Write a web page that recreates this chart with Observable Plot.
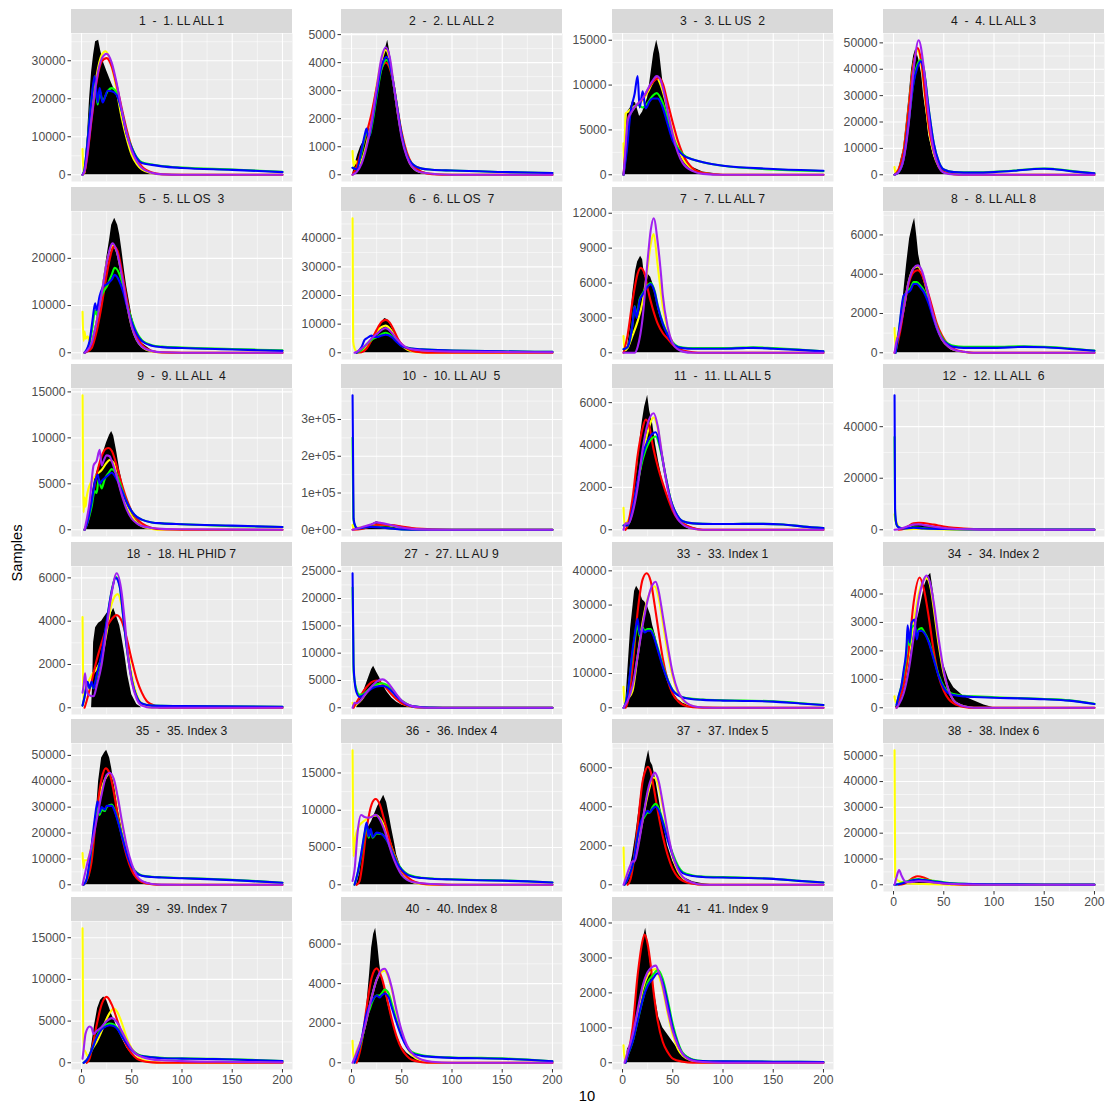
<!DOCTYPE html>
<html>
<head>
<meta charset="utf-8">
<script src="https://cdn.jsdelivr.net/npm/d3@7"></script>
<script src="https://cdn.jsdelivr.net/npm/@observablehq/plot@0.6"></script>
<style>
  body { margin: 0; background: #ffffff; }
  #chart { position: relative; width: 1111px; height: 1107px; font-family: "Liberation Sans", Arial, sans-serif; }
  .strip { position: absolute; background: #D9D9D9; color: #1A1A1A; font-size: 12.2px; text-align: center; white-space: pre; }
  .panel { position: absolute; }
  .panel svg { overflow: visible; }
  .title { position: absolute; font-size: 14.7px; color: #000; white-space: pre; }
</style>
</head>
<body>
<div id="chart"></div>
<script>
// ---- facet labels ----
const panelIds = [1, 2, 3, 4, 5, 6, 7, 8, 9, 10, 11, 12, 18, 27, 33, 34, 35, 36, 37, 38, 39, 40, 41];
const panelNames = [
  "1. LL ALL 1", "2. LL ALL 2", "3. LL US  2", "4. LL ALL 3",
  "5. LL OS  3", "6. LL OS  7", "7. LL ALL 7", "8. LL ALL 8",
  "9. LL ALL  4", "10. LL AU  5", "11. LL ALL 5", "12. LL ALL  6",
  "18. HL PHID 7", "27. LL AU 9", "33. Index 1", "34. Index 2",
  "35. Index 3", "36. Index 4", "37. Index 5", "38. Index 6",
  "39. Index 7", "40. Index 8", "41. Index 9"
];

// ---- axis ticks ----
const xTicks = [0, 50, 100, 150, 200];
const xMinor = [25, 75, 125, 175];
const yTicks = [
  [0, 10000, 20000, 30000], [0, 1000, 2000, 3000, 4000, 5000], [0, 5000, 10000, 15000], [0, 10000, 20000, 30000, 40000, 50000],
  [0, 10000, 20000], [0, 10000, 20000, 30000, 40000], [0, 3000, 6000, 9000, 12000], [0, 2000, 4000, 6000],
  [0, 5000, 10000, 15000], [0, 100000, 200000, 300000], [0, 2000, 4000, 6000], [0, 20000, 40000],
  [0, 2000, 4000, 6000], [0, 5000, 10000, 15000, 20000, 25000], [0, 10000, 20000, 30000, 40000], [0, 1000, 2000, 3000, 4000],
  [0, 10000, 20000, 30000, 40000, 50000], [0, 5000, 10000, 15000], [0, 2000, 4000, 6000], [0, 10000, 20000, 30000, 40000, 50000],
  [0, 5000, 10000, 15000], [0, 2000, 4000, 6000], [0, 1000, 2000, 3000, 4000]
];
// panel 10 uses scientific labels
const sciTickLabels = ["0e+00", "1e+05", "2e+05", "3e+05"];

// ---- histogram of samples (black) ----
const histPts = [
  [[2,0],[4,4000],[6,10600],[8,20000],[10,27000],[12,31500],[14,35000],[17,35400],[19,32700],[22,29500],[25,27400],[30,24000],[35,21000],[40,16500],[45,10500],[50,6000],[55,3300],[60,1600],[70,400],[80,0]],
  [[1,0],[3,300],[6,700],[9,1000],[12,1200],[15,1500],[18,1700],[21,2100],[24,2700],[27,3200],[30,3800],[33,4400],[36,4800],[39,4200],[42,3400],[45,2600],[50,1500],[55,800],[60,400],[70,120],[80,30],[100,0]],
  [[1,0],[2,3000],[5,7000],[8,7500],[10,8200],[13,8000],[17,6500],[20,7000],[25,8600],[28,11000],[31,13500],[34,15000],[37,13500],[40,10500],[45,7000],[50,4500],[55,3000],[60,2000],[70,800],[80,300],[100,0]],
  [[2,0],[5,2000],[10,10000],[15,28000],[18,40000],[20,45000],[22,47500],[25,44000],[28,38000],[30,30000],[33,22000],[35,15000],[40,7000],[45,3000],[50,1000],[60,200],[70,0]],
  [[5,0],[10,2000],[15,7000],[20,13000],[25,20000],[28,24000],[30,27000],[33,28500],[36,27000],[38,25000],[40,22000],[43,17000],[45,14000],[50,8000],[55,4000],[60,2000],[70,500],[80,0]],
  [[8,0],[15,2000],[20,4500],[25,7500],[30,10500],[33,12000],[36,11500],[40,9000],[45,5500],[50,3000],[55,1500],[60,800],[70,200],[80,0]],
  [[2,0],[3,300],[5,500],[8,2500],[10,5000],[13,7000],[15,7800],[18,8300],[20,8000],[22,6500],[25,6800],[28,6500],[30,6000],[33,5000],[36,3500],[40,2500],[45,1500],[50,800],[60,200],[70,0]],
  [[3,0],[5,800],[8,2000],[10,3000],[13,4500],[16,5800],[19,6500],[21,6850],[23,6000],[25,5000],[28,4200],[30,3800],[35,2800],[40,1800],[45,1100],[50,600],[55,300],[60,150],[70,50],[80,0]],
  [[3,0],[5,500],[8,2000],[10,3500],[13,5500],[16,6500],[19,7500],[22,8500],[25,9500],[28,10300],[30,10700],[32,10200],[35,8500],[38,6500],[40,5500],[43,4000],[45,3000],[50,1800],[55,1000],[60,500],[70,150],[80,0]],
  [[8,0],[10,2000],[15,8000],[20,15000],[25,22000],[30,18000],[35,12000],[40,8000],[50,3000],[60,1000],[70,300],[80,0]],
  [[4,0],[5,200],[8,500],[10,1000],[12,2000],[15,3000],[18,4500],[20,5200],[22,5800],[25,6350],[27,5600],[30,5000],[33,4000],[36,3200],[40,2300],[45,1500],[50,900],[55,500],[60,300],[70,100],[80,0]],
  [[10,0],[15,500],[20,1500],[25,2000],[30,1800],[40,1000],[50,500],[60,200],[70,0]],
  [[10,0],[11,1000],[12,3000],[14,3700],[17,3900],[20,4000],[23,4200],[26,4400],[28,4200],[32,4600],[35,4200],[38,3800],[40,3300],[43,2500],[46,1500],[50,600],[55,150],[60,0]],
  [[5,0],[8,1500],[12,3000],[15,4500],[18,6000],[20,7000],[22,7600],[25,6500],[28,5500],[30,4600],[35,3000],[40,1800],[45,1000],[50,500],[60,100],[70,0]],
  [[3,500],[5,9600],[8,23000],[12,34000],[14,35500],[17,34000],[20,31500],[22,31000],[25,29500],[28,27000],[30,24000],[33,21000],[36,17000],[40,12000],[45,7500],[50,4500],[55,2500],[60,1300],[70,400],[80,100],[90,0]],
  [[2,0],[5,300],[10,1000],[15,1700],[20,2600],[25,3300],[28,3800],[31,4300],[34,4600],[37,4730],[40,4000],[43,3000],[46,2200],[50,1500],[55,1000],[60,700],[70,400],[80,250],[90,100],[100,0]],
  [[4,0],[5,500],[8,3000],[10,10000],[13.5,21500],[17,40000],[20,49000],[23,51000],[25,52000],[28,49000],[30,45000],[33,38000],[36,30000],[40,22000],[43,16000],[45,12000],[50,6500],[55,3000],[60,1500],[70,400],[80,100],[90,0]],
  [[5,0],[8,1500],[10,4000],[13,6500],[16,7500],[20,8500],[23,9500],[26,10500],[29,11200],[32,12000],[35,11000],[38,9000],[40,7500],[43,5500],[45,4000],[50,2000],[55,1000],[60,500],[70,200],[80,0]],
  [[3,0],[5,300],[8,1000],[10,1500],[13,2500],[15,3300],[18,4500],[20,5300],[23,6200],[26,6900],[28,6300],[30,6100],[33,5400],[36,4500],[40,3300],[45,2000],[50,1200],[55,700],[60,400],[70,150],[80,50],[90,0]],
  [[8,0],[10,300],[15,800],[20,1500],[25,2000],[30,1800],[40,1000],[50,500],[60,200],[70,50],[80,0]],
  [[5,0],[8,800],[10,2000],[13,4500],[16,6500],[19,7500],[22,7900],[25,7500],[28,6500],[30,5800],[33,5000],[36,4000],[40,3000],[45,1800],[50,1000],[55,500],[60,250],[70,50],[80,0]],
  [[5,0],[8,300],[10,800],[13,1800],[15,2800],[18,4500],[20,5800],[22,6500],[24,6800],[26,6000],[28,5000],[30,4300],[33,3700],[36,3000],[40,2200],[45,1400],[50,800],[55,500],[60,300],[70,100],[80,0]],
  [[3,0],[5,400],[8,500],[10,900],[13,1800],[16,2700],[19,3300],[21,3600],[23,3850],[25,3500],[27,3000],[30,2400],[33,1800],[36,1300],[40,1000],[45,800],[50,600],[55,400],[60,250],[70,100],[80,0]]
];

// ---- fitted density curves ----
const yellowPts = [
  [[1,6800],[2,200],[3,600],[5,5500],[10,16000],[15,26000],[20,31500],[24,32500],[28,30500],[33,25000],[40,15000],[45,9500],[50,5200],[55,2800],[60,1400],[70,400],[80,100],[100,0],[200,0]],
  [[1,850],[2,300],[4,500],[6,300],[10,500],[15,1100],[20,2000],[25,3200],[30,4100],[34,4450],[38,4100],[42,3200],[46,2200],[50,1400],[55,700],[60,300],[70,80],[100,0],[200,0]],
  [[1,3500],[1.5,500],[3,6800],[5,7000],[10,7500],[20,8300],[25,9200],[30,10300],[34,10800],[38,10000],[42,8500],[46,6500],[50,4800],[55,3000],[60,1800],[70,600],[80,200],[100,0],[200,0]],
  [[1,2900],[2,500],[3,1200],[5,2000],[10,9000],[15,25000],[20,42000],[24,47000],[28,41000],[32,27000],[36,15000],[40,8000],[45,3000],[50,1000],[60,150],[70,0],[200,0]],
  [[1,8700],[2,2500],[3,4500],[4,3000],[6,3500],[8,2500],[10,2500],[15,6500],[20,12500],[25,19000],[30,22500],[31,22700],[35,21500],[40,16500],[45,10500],[50,5500],[55,2700],[60,1300],[70,300],[80,50],[100,0],[200,0]],
  [[1,47000],[1.6,4000],[3,1500],[5,500],[8,300],[12,1000],[15,2500],[20,5000],[25,7500],[30,9000],[34,9500],[38,8500],[42,6500],[46,4200],[50,2500],[55,1200],[60,500],[70,100],[80,0],[200,0]],
  [[1,1430],[2,200],[5,400],[10,1500],[15,2700],[20,4400],[25,7300],[28,9300],[31,10200],[35,7500],[40,4000],[45,2000],[50,900],[60,200],[70,0],[200,0]],
  [[1,1260],[2,300],[3,700],[5,1000],[10,2200],[15,3600],[20,4300],[24,4400],[28,4100],[33,3200],[38,2200],[43,1300],[48,700],[55,300],[60,150],[70,40],[80,0],[200,0]],
  [[1,14640],[2,1900],[3,3500],[4,2500],[5,3500],[10,5300],[15,6000],[20,6500],[25,7300],[28,7600],[32,7300],[35,6000],[40,4000],[45,2500],[50,1500],[55,800],[60,400],[70,100],[80,0],[200,0]],
  [[1,13000],[2,3000],[4,5000],[10,7000],[20,12000],[30,14000],[40,11000],[50,6000],[60,2500],[70,800],[80,200],[100,0],[200,0]],
  [[1,1040],[2,200],[3,300],[5,400],[10,1000],[15,2200],[20,3500],[25,4600],[31,5300],[35,4800],[40,3300],[45,2000],[50,1100],[55,600],[60,300],[70,50],[80,0],[200,0]],
  [[1,6000],[2,3500],[3,2900],[5,1000],[8,500],[10,300],[15,200],[20,300],[30,300],[40,200],[60,50],[80,0],[200,0]],
  [[1,4190],[2,200],[3,700],[5,1000],[10,1500],[15,1800],[20,2300],[25,3500],[30,4800],[36,5250],[40,4700],[45,3000],[50,1500],[55,600],[60,200],[70,0],[200,0]],
  [[1,900],[2,200],[5,600],[10,1500],[15,2800],[20,3700],[25,4100],[30,4200],[35,3700],[40,2700],[45,1700],[50,900],[60,200],[70,0],[200,0]],
  [[1,6100],[2,1000],[3,1500],[5,2500],[10,5000],[15,15000],[20,25000],[25,32000],[30,35000],[32,35500],[36,32000],[40,25000],[45,16000],[50,9000],[55,4500],[60,2200],[70,500],[80,100],[100,0],[200,0]],
  [[1,400],[2,200],[5,300],[10,800],[15,1800],[20,3000],[25,4000],[30,4500],[33,4550],[37,4200],[40,3500],[45,2200],[50,1200],[55,600],[60,250],[70,50],[80,0],[200,0]],
  [[1,12270],[2,6500],[3,9500],[5,9500],[10,15000],[15,27000],[20,37000],[25,42000],[28,43000],[32,40500],[36,33000],[40,24000],[45,14000],[50,7000],[55,3000],[60,1200],[70,200],[80,0],[200,0]],
  [[1,18050],[2,3800],[3,5500],[5,7000],[8,8000],[10,8300],[15,8800],[20,9200],[25,9300],[30,8600],[35,7000],[40,5000],[45,3200],[50,1800],[55,900],[60,400],[70,100],[80,0],[200,0]],
  [[1,1910],[2,300],[3,300],[5,500],[10,1000],[15,2000],[20,3300],[25,4600],[31,5500],[35,5200],[40,4000],[45,2600],[50,1400],[55,700],[60,350],[70,80],[80,0],[200,0]],
  [[1,52150],[1.6,3000],[5,1500],[10,800],[15,500],[20,400],[30,300],[40,200],[50,100],[60,0],[200,0]],
  [[1,16140],[2,1420],[3,1500],[6,800],[8,1000],[10,1500],[15,2500],[20,3800],[25,5300],[30,6300],[32,6500],[36,6000],[40,4800],[45,3000],[50,1700],[55,900],[60,400],[70,100],[80,0],[200,0]],
  [[1,1110],[2,200],[5,600],[10,1200],[15,2200],[20,3300],[25,4200],[30,4600],[33,4650],[36,4400],[40,3700],[45,2500],[50,1500],[55,800],[60,400],[70,100],[80,0],[200,0]],
  [[1,500],[2,100],[5,300],[10,700],[15,1400],[20,2100],[25,2500],[30,2650],[33,2680],[36,2500],[40,2100],[45,1400],[50,800],[55,400],[60,200],[70,50],[80,0],[200,0]]
];

const redPts = [
  [[1,0],[3,800],[5,3500],[10,14500],[15,24500],[20,29800],[25,30700],[30,28500],[35,23500],[40,17500],[45,11800],[50,7200],[55,4000],[60,2200],[70,600],[80,150],[100,0],[200,0]],
  [[1,0],[5,300],[10,900],[15,1500],[20,2200],[25,3100],[30,3800],[34,4000],[38,3800],[42,3200],[46,2300],[50,1500],[55,800],[60,400],[70,100],[80,20],[100,0],[200,0]],
  [[1,0],[4,4000],[6,6500],[10,7200],[20,8500],[30,10300],[36,10800],[40,10200],[45,8000],[50,5800],[55,3800],[60,2300],[70,700],[80,200],[100,0],[200,0]],
  [[1,0],[5,2000],[10,9000],[15,25000],[20,42000],[24,48000],[28,42000],[32,28000],[36,16000],[40,9000],[45,3500],[50,1200],[60,200],[70,0],[200,0]],
  [[3,0],[5,200],[10,1000],[15,4500],[20,10000],[25,16500],[30,21500],[32,22500],[36,21500],[40,17500],[45,11500],[50,6500],[55,3500],[60,1700],[70,400],[80,80],[100,0],[200,0]],
  [[5,0],[10,200],[15,1500],[20,4500],[25,8000],[30,10800],[34,11500],[38,10500],[42,8000],[46,5000],[50,3000],[55,1500],[60,700],[70,150],[80,0],[200,0]],
  [[1,0],[5,1500],[10,4500],[15,6800],[18,7300],[22,6800],[25,5500],[30,3800],[35,2500],[40,1700],[45,1200],[50,700],[55,400],[60,200],[70,50],[80,0],[200,0]],
  [[1,0],[3,300],[5,700],[8,1500],[10,2200],[15,3500],[20,4100],[24,4200],[28,4000],[33,3300],[38,2400],[43,1500],[48,900],[53,500],[60,200],[70,50],[80,0],[200,0]],
  [[3,0],[5,500],[10,3000],[15,6000],[20,8000],[24,8800],[27,8900],[30,8600],[35,7000],[40,5000],[45,3300],[50,2000],[55,1200],[60,700],[70,200],[80,50],[100,0],[200,0]],
  [[1,0],[10,2000],[20,10000],[30,14000],[40,13000],[50,9000],[60,5000],[70,2500],[80,1000],[100,200],[120,0],[200,0]],
  [[3,0],[5,200],[10,1500],[15,3500],[20,4800],[23,5200],[27,4800],[30,4000],[35,3000],[40,2200],[45,1500],[50,900],[55,500],[60,300],[70,80],[80,0],[200,0]],
  [[5,0],[10,300],[15,1500],[20,2500],[25,2700],[30,2600],[40,2000],[50,1300],[60,800],[70,500],[80,300],[100,100],[150,0],[200,0]],
  [[3,0],[5,300],[10,1200],[15,2200],[20,3000],[25,3700],[30,4100],[35,4280],[40,4000],[45,3200],[50,2200],[55,1300],[60,700],[65,300],[70,150],[80,0],[200,0]],
  [[2,0],[5,1000],[10,2500],[15,3800],[20,4700],[25,5000],[30,4500],[35,3500],[40,2400],[45,1500],[50,800],[60,200],[70,50],[80,0],[200,0]],
  [[3,0],[5,1500],[10,12000],[15,28000],[20,37500],[24,39300],[28,37000],[32,30000],[36,22000],[40,14500],[45,8000],[50,4000],[55,2000],[60,900],[70,200],[80,50],[100,0],[200,0]],
  [[3,0],[5,200],[10,800],[15,2000],[20,3700],[26,4580],[30,4200],[35,3200],[40,2000],[45,1100],[50,600],[55,300],[60,150],[70,30],[80,0],[200,0]],
  [[2,0],[5,1500],[10,9000],[15,28000],[20,41000],[24,45000],[28,43000],[32,36000],[36,27000],[40,19000],[45,11000],[50,5500],[55,2500],[60,1100],[70,200],[80,0],[200,0]],
  [[5,0],[8,500],[10,2000],[15,7500],[20,10800],[24,11500],[28,10800],[32,9000],[36,7000],[40,5000],[45,3200],[50,1900],[55,1100],[60,600],[70,150],[80,50],[100,0],[200,0]],
  [[5,0],[8,300],[10,800],[15,3000],[20,5300],[23,5900],[25,6050],[28,5800],[31,5000],[35,3800],[40,2500],[45,1500],[50,800],[55,400],[60,200],[70,50],[80,0],[200,0]],
  [[5,0],[10,300],[15,1500],[20,2800],[24,3300],[30,2800],[35,2000],[40,1300],[50,500],[60,200],[70,50],[80,0],[200,0]],
  [[5,0],[8,500],[10,1500],[15,4500],[20,7000],[25,7900],[30,7000],[35,5300],[40,3500],[45,2000],[50,1100],[55,500],[60,250],[70,50],[80,0],[200,0]],
  [[5,0],[8,500],[10,1000],[15,2800],[20,4300],[25,4770],[30,4300],[35,3300],[40,2200],[45,1300],[50,700],[55,350],[60,150],[70,30],[80,0],[200,0]],
  [[3,0],[5,200],[10,1000],[15,2500],[20,3500],[22,3670],[25,3400],[28,2800],[31,2000],[35,1200],[40,600],[45,300],[50,120],[60,30],[70,0],[200,0]]
];

const greenPts = [
  [[1,0],[3,1500],[6,9000],[10,20000],[13,25000],[16,18500],[18,22000],[21,19500],[26,22000],[30,22800],[35,21500],[40,16800],[45,10800],[50,7200],[55,4600],[60,3300],[70,2700],[80,2300],[100,1900],[150,1400],[200,800]],
  [[1,250],[5,200],[10,800],[13,1300],[15,1500],[18,1400],[20,1700],[25,2800],[30,3800],[35,4100],[40,3600],[45,2500],[50,1400],[55,700],[60,400],[70,220],[80,180],[100,150],[150,100],[200,60]],
  [[1,0],[4,3000],[7,6500],[10,7200],[15,7800],[20,7500],[25,8000],[30,8800],[34,9100],[40,8000],[45,6200],[50,4300],[55,3000],[60,2300],[70,1700],[80,1400],[100,1000],[150,600],[200,400]],
  [[1,0],[5,1000],[10,6000],[15,20000],[20,35500],[24,42000],[27,43500],[30,40500],[35,25000],[40,12000],[45,5000],[50,2000],[60,1000],[80,900],[100,1100],[120,1600],[140,2300],[150,2400],[160,2200],[180,1300],[200,600]],
  [[3,0],[8,2000],[11,5500],[13.5,9000],[15,8000],[18,11000],[22,13000],[25,14000],[30,16500],[33,18000],[38,16500],[42,13500],[45,10500],[50,7000],[55,4300],[60,2700],[70,1600],[80,1300],[100,1100],[150,800],[200,500]],
  [[5,0],[10,1000],[15,3000],[20,4500],[25,5500],[30,6500],[34,7000],[40,5800],[45,4000],[50,2500],[60,1500],[70,1200],[80,1000],[100,800],[150,500],[200,300]],
  [[1,300],[5,500],[10,2500],[12,4000],[14,3200],[17,4600],[20,5100],[25,5800],[28,6000],[32,5300],[35,4100],[40,2600],[45,1600],[50,900],[55,550],[60,450],[70,400],[80,400],[100,400],[120,450],[130,470],[150,400],[175,280],[200,130]],
  [[2,0],[5,1000],[10,2800],[12,3000],[15,3200],[17,3300],[20,3600],[23,3600],[27,3400],[30,3200],[35,2600],[40,1800],[45,1100],[50,650],[55,450],[60,350],[70,300],[80,300],[100,300],[130,330],[150,300],[175,220],[200,110]],
  [[3,0],[5,500],[10,2500],[13,4200],[15,4000],[17,5500],[20,4500],[23,5500],[27,6200],[30,6600],[35,6000],[40,4500],[45,3000],[50,2000],[55,1400],[60,1100],[70,800],[80,700],[100,600],[150,400],[200,300]],
  [[1,250000],[2,25000],[4,8000],[6,3000],[10,5000],[20,9000],[30,7000],[40,3500],[50,1200],[70,200],[100,0],[200,0]],
  [[1,200],[5,200],[10,900],[15,2200],[20,3300],[25,4000],[33,4400],[38,3700],[43,2500],[48,1400],[53,800],[60,400],[70,300],[80,280],[100,270],[120,280],[140,280],[160,250],[180,150],[200,80]],
  [[1,36000],[1.5,6000],[3,2000],[5,1000],[10,600],[20,900],[30,600],[50,350],[100,120],[200,50]],
  [[1,100],[3,500],[6,1100],[8,900],[10,1100],[12,900],[15,1400],[20,2400],[25,3900],[30,5400],[34,6050],[38,5600],[42,4000],[45,2800],[50,1300],[55,500],[60,200],[70,100],[100,80],[200,50]],
  [[1,22000],[2,7000],[3,5000],[5,3300],[8,2400],[10,2400],[15,3000],[20,3800],[25,4300],[30,4500],[35,4200],[40,3300],[45,2200],[50,1300],[55,700],[60,300],[70,100],[80,50],[100,0],[200,0]],
  [[1,0],[2,500],[5,4000],[10,16000],[12,20000],[15,24000],[17,21000],[20,23500],[22,22500],[25,23000],[28,23000],[30,22000],[35,17500],[40,12500],[45,8200],[50,5200],[55,3800],[60,3100],[70,2600],[80,2400],[100,2200],[120,2100],[150,1900],[175,1400],[200,800]],
  [[3,100],[5,400],[8,800],[10,1200],[13,2000],[14,2600],[16,2200],[18,2800],[21,2900],[23,2500],[25,2750],[28,2800],[30,2700],[35,2350],[40,1750],[45,1150],[50,750],[55,550],[60,480],[70,420],[80,400],[100,370],[125,340],[150,310],[175,260],[200,140]],
  [[2,0],[5,2000],[10,14000],[13,23000],[16,30000],[18,27000],[20,29000],[23,28500],[25,30000],[30,31000],[35,26500],[40,19500],[45,12500],[50,7300],[55,4700],[60,3600],[70,3100],[80,2900],[100,2600],[125,2300],[150,1900],[175,1400],[200,800]],
  [[3,0],[6,1500],[10,4300],[13,6800],[15,8000],[17,6300],[19,7300],[21,6300],[25,6900],[30,6800],[35,6000],[40,4600],[45,3100],[50,2100],[55,1500],[60,1200],[70,950],[80,850],[100,750],[125,650],[150,580],[175,470],[200,300]],
  [[2,0],[5,300],[10,1000],[12,1500],[15,2500],[18,3100],[22,3500],[25,3700],[27,3700],[30,4000],[33,4150],[37,3800],[40,3300],[45,2400],[50,1600],[55,1000],[60,650],[70,480],[80,420],[100,390],[125,360],[150,310],[175,210],[200,120]],
  [[1,0],[5,300],[10,1000],[15,1500],[20,2000],[25,2200],[30,2000],[40,1500],[50,1000],[60,600],[70,400],[100,200],[150,100],[200,50]],
  [[2,0],[5,300],[10,1500],[15,3100],[20,4200],[25,4600],[28,4700],[32,4600],[36,4100],[40,3300],[45,2400],[50,1600],[55,1100],[60,850],[70,700],[80,600],[100,530],[125,480],[150,420],[175,320],[200,200]],
  [[3,0],[5,300],[10,1100],[15,2300],[18,2700],[20,3000],[25,3400],[28,3400],[30,3500],[33,3700],[37,3500],[40,3000],[45,2100],[50,1400],[55,850],[60,550],[70,380],[80,320],[100,270],[125,250],[150,220],[175,160],[200,80]],
  [[3,0],[5,200],[10,600],[15,1200],[20,1800],[25,2300],[30,2500],[35,2650],[40,2400],[45,1800],[50,1100],[55,600],[60,280],[70,90],[80,50],[100,40],[150,30],[200,20]]
];

const bluePts = [
  [[1,0],[3,1500],[6,9000],[10,20000],[13,26000],[16,19000],[18,22800],[21,19000],[26,22100],[30,22000],[35,21000],[40,16800],[45,10600],[50,7000],[55,4400],[60,3100],[70,2600],[80,2200],[100,1800],[150,1300],[200,700]],
  [[1,250],[5,200],[10,900],[13,1400],[15,1650],[17,1300],[20,1800],[25,2900],[30,3900],[35,4200],[40,3600],[45,2500],[50,1400],[55,700],[60,400],[70,220],[80,180],[100,150],[150,100],[200,60]],
  [[1,0],[4,2500],[8,7000],[12,9000],[15,11000],[17,7500],[20,9300],[23,7400],[27,8200],[30,8500],[35,8500],[40,7500],[45,5600],[50,3800],[55,2800],[60,2200],[70,1700],[80,1400],[100,1000],[150,650],[200,450]],
  [[1,0],[5,1000],[10,6000],[15,20000],[20,35000],[24,41000],[27,43000],[30,40000],[35,25000],[40,12000],[45,5000],[50,2000],[60,1000],[80,800],[100,1000],[120,1500],[140,2200],[150,2300],[160,2100],[180,1200],[200,600]],
  [[3,0],[8,2500],[11,7000],[13.5,10500],[15,9000],[18,12000],[22,14100],[25,14500],[30,15500],[33,16500],[38,15000],[42,12500],[45,10000],[50,6500],[55,4000],[60,2500],[70,1500],[80,1200],[100,1000],[150,700],[200,400]],
  [[5,0],[10,2000],[13,4500],[15,5000],[20,6000],[22,5500],[25,5500],[30,6000],[34,6300],[40,5500],[45,3800],[50,2300],[60,1500],[70,1200],[80,1000],[100,800],[150,500],[200,300]],
  [[1,300],[5,500],[10,2500],[12,4000],[14,3000],[17,4500],[20,5000],[25,5700],[28,5900],[32,5200],[35,4000],[40,2500],[45,1500],[50,800],[55,500],[60,400],[70,350],[80,350],[100,350],[120,400],[130,420],[150,350],[175,250],[200,120]],
  [[2,0],[5,1000],[10,2900],[12,3000],[15,3100],[17,3200],[20,3500],[23,3500],[27,3300],[30,3100],[35,2500],[40,1700],[45,1000],[50,600],[55,400],[60,300],[70,250],[80,250],[100,250],[130,300],[150,280],[175,200],[200,100]],
  [[3,0],[5,500],[10,3000],[13,5000],[16,6000],[18,5000],[20,5300],[25,5800],[30,6200],[35,5500],[40,4300],[45,3000],[50,2000],[55,1400],[60,1100],[70,800],[80,700],[100,600],[150,450],[200,300]],
  [[1,366000],[2,30000],[4,8000],[6,3000],[10,5000],[20,8000],[30,6000],[40,3000],[50,1000],[70,200],[100,0],[200,0]],
  [[1,200],[5,200],[10,1000],[15,2300],[20,3500],[25,4200],[33,4600],[38,3800],[43,2500],[48,1400],[53,800],[60,400],[70,300],[80,280],[100,270],[120,280],[140,280],[160,250],[180,150],[200,80]],
  [[1,52200],[1.5,8000],[3,2000],[5,1000],[10,500],[20,800],[30,500],[50,300],[100,100],[200,50]],
  [[1,100],[3,500],[6,1200],[8,900],[10,1200],[12,900],[15,1500],[20,2500],[25,4000],[30,5400],[34,6000],[38,5600],[42,4000],[45,2800],[50,1300],[55,500],[60,200],[70,100],[100,80],[200,50]],
  [[1,24630],[2,8000],[3,5000],[5,2800],[8,2000],[10,2100],[15,2800],[20,3500],[25,3900],[30,4000],[35,3800],[40,3000],[45,2000],[50,1200],[55,600],[60,300],[70,100],[80,50],[100,0],[200,0]],
  [[1,0],[2,500],[5,4000],[10,17000],[12,21000],[15,26000],[17,21500],[20,23000],[22,22000],[25,22500],[28,22500],[30,21500],[35,17000],[40,12000],[45,8000],[50,5000],[55,3700],[60,3000],[70,2500],[80,2300],[100,2100],[120,2000],[150,1800],[175,1300],[200,800]],
  [[3,100],[5,400],[8,800],[10,1300],[13,2200],[14,2900],[16,2300],[18,3000],[21,3100],[23,2400],[25,2700],[28,2700],[30,2650],[35,2300],[40,1700],[45,1100],[50,700],[55,500],[60,450],[70,400],[80,380],[100,350],[125,330],[150,300],[175,250],[200,130]],
  [[2,0],[5,2000],[10,15000],[13,25000],[16,32300],[18,28000],[20,30000],[23,29000],[25,30500],[30,30500],[35,26000],[40,19000],[45,12000],[50,7000],[55,4500],[60,3500],[70,3000],[80,2800],[100,2500],[125,2200],[150,1800],[175,1300],[200,800]],
  [[3,0],[6,1500],[10,4500],[13,7000],[15,8360],[17,6500],[19,7500],[21,6400],[25,7000],[30,6800],[35,6000],[40,4500],[45,3000],[50,2000],[55,1400],[60,1100],[70,900],[80,800],[100,700],[125,600],[150,550],[175,450],[200,300]],
  [[2,0],[5,300],[10,1000],[12,1500],[15,2500],[18,3200],[22,3600],[25,3800],[27,3700],[30,3900],[33,4000],[37,3700],[40,3200],[45,2300],[50,1500],[55,900],[60,600],[70,450],[80,400],[100,370],[125,350],[150,300],[175,200],[200,120]],
  [[1,0],[5,200],[10,700],[15,1300],[20,1800],[25,2000],[30,1800],[40,1300],[50,800],[60,500],[70,350],[100,200],[150,100],[200,50]],
  [[2,0],[5,300],[10,1500],[15,3000],[20,4000],[25,4400],[28,4500],[32,4400],[36,4000],[40,3200],[45,2300],[50,1500],[55,1000],[60,800],[70,650],[80,550],[100,500],[125,450],[150,400],[175,300],[200,200]],
  [[3,0],[5,300],[10,1200],[15,2500],[18,2900],[20,3100],[25,3400],[28,3300],[30,3400],[33,3500],[37,3300],[40,2800],[45,2000],[50,1300],[55,800],[60,500],[70,350],[80,300],[100,250],[125,230],[150,200],[175,150],[200,80]],
  [[3,0],[5,200],[10,600],[15,1200],[20,1800],[25,2200],[30,2400],[35,2560],[40,2300],[45,1700],[50,1000],[55,550],[60,250],[70,80],[80,50],[100,40],[150,30],[200,20]]
];

const purplePts = [
  [[1,0],[3,1000],[5,4000],[10,15000],[15,25000],[20,30500],[25,31800],[30,29500],[35,24000],[40,17000],[45,10800],[50,6300],[55,3500],[60,1800],[70,500],[80,100],[100,0],[200,0]],
  [[1,0],[5,100],[10,400],[15,1000],[20,1900],[25,3100],[30,4200],[34,4550],[38,4200],[42,3200],[46,2200],[50,1300],[55,650],[60,300],[70,80],[100,0],[200,0]],
  [[1,0],[3,3000],[5,6000],[10,7200],[20,8500],[30,10500],[34,11000],[38,10500],[42,8800],[46,6500],[50,4500],[55,2500],[60,1300],[70,400],[80,100],[100,0],[200,0]],
  [[1,0],[5,1000],[10,6000],[15,19000],[20,40000],[25,51000],[30,41000],[35,22000],[40,9000],[45,3000],[50,800],[60,100],[70,0],[200,0]],
  [[3,0],[5,300],[10,2000],[15,6500],[20,12500],[25,19000],[30,23000],[31,23200],[35,21500],[40,16500],[45,10500],[50,5500],[55,2700],[60,1300],[70,400],[80,100],[100,0],[200,0]],
  [[3,0],[6,500],[10,1500],[15,3000],[20,5000],[25,6500],[30,8000],[34,8600],[40,7000],[45,4800],[50,3000],[55,1800],[60,1200],[70,800],[80,600],[100,400],[150,250],[200,150]],
  [[1,0],[12,0],[15,500],[20,3000],[25,8000],[28,10500],[31,11570],[35,9500],[38,7000],[40,5000],[45,2200],[50,800],[55,300],[60,100],[70,0],[200,0]],
  [[1,0],[3,600],[5,900],[10,2200],[15,3600],[20,4300],[24,4450],[28,4200],[33,3300],[38,2200],[43,1300],[48,700],[55,300],[60,150],[70,50],[80,0],[200,0]],
  [[3,0],[8,3000],[12,7000],[15,7500],[18,8700],[20,7000],[22,7500],[25,8100],[28,8000],[30,7500],[35,5800],[40,3800],[45,2200],[50,1200],[55,700],[60,400],[70,200],[80,100],[100,50],[200,0]],
  [[1,0],[5,3000],[10,7000],[20,15000],[25,20000],[30,18000],[40,12000],[50,6000],[60,2500],[70,1000],[80,400],[100,0],[200,0]],
  [[1,0],[3,300],[6,300],[10,800],[15,2000],[20,3800],[25,5000],[31,5500],[35,4900],[40,3300],[45,1900],[50,1000],[55,500],[60,250],[70,50],[80,0],[200,0]],
  [[1,0],[5,200],[10,800],[15,1500],[20,2000],[25,2100],[30,1800],[40,1200],[50,700],[60,400],[80,150],[100,50],[150,0],[200,0]],
  [[1,700],[2,1000],[3.5,1590],[5,900],[7,600],[12,530],[15,1000],[20,2000],[25,3700],[30,5300],[35,6215],[40,5300],[43,4000],[46,2500],[50,1200],[55,400],[60,100],[70,0],[200,0]],
  [[1,0],[3,900],[5,800],[10,1600],[15,2800],[20,3900],[25,4800],[31,5200],[35,4800],[40,3700],[45,2400],[50,1300],[55,700],[60,300],[70,50],[80,0],[200,0]],
  [[1,0],[2,500],[5,2000],[10,6500],[15,15000],[20,24000],[25,31500],[30,36000],[33,36800],[36,34000],[40,27000],[45,18000],[50,10000],[55,5000],[60,2500],[70,500],[80,100],[100,0],[200,0]],
  [[3,0],[5,100],[10,500],[15,1300],[20,2500],[25,3800],[30,4500],[33,4650],[37,4300],[40,3700],[45,2400],[50,1300],[55,600],[60,250],[70,50],[80,0],[200,0]],
  [[1,0],[5,7000],[10,15000],[15,25000],[20,35000],[25,42500],[28,43300],[32,41000],[36,34000],[40,25000],[45,15000],[50,8000],[55,3500],[60,1500],[70,300],[80,50],[100,0],[200,0]],
  [[1,500],[3,2000],[6,7000],[9.5,9360],[13,9100],[16,9000],[20,9100],[24,9400],[28,8800],[32,7600],[36,6000],[40,4200],[45,2500],[50,1300],[55,700],[60,400],[70,200],[80,100],[100,0],[200,0]],
  [[1,0],[3,300],[7,900],[10,1200],[12,1200],[15,1800],[20,3300],[25,4800],[30,5600],[32,5750],[36,5300],[40,4200],[45,2700],[50,1500],[55,800],[60,400],[70,100],[80,0],[200,0]],
  [[1,0],[3,3000],[5.5,5670],[8,3500],[10,2000],[12,1200],[15,1000],[20,1200],[25,1400],[30,1300],[40,900],[50,500],[60,300],[80,100],[100,0],[200,0]],
  [[1,500],[2,1500],[4,3500],[8,4350],[10,4200],[12,3450],[15,3800],[20,4300],[25,5000],[30,5360],[35,4900],[40,3800],[45,2600],[50,1600],[55,1000],[60,700],[70,400],[80,300],[100,200],[150,100],[200,50]],
  [[1,0],[5,500],[10,1200],[15,2200],[20,3300],[25,4200],[30,4700],[33,4750],[36,4500],[40,3800],[45,2600],[50,1600],[55,900],[60,500],[70,150],[80,50],[100,0],[200,0]],
  [[2,0],[5,300],[10,800],[15,1500],[20,2200],[25,2600],[30,2750],[33,2780],[36,2600],[40,2200],[45,1500],[50,900],[55,500],[60,250],[70,60],[80,20],[100,0],[200,0]]
];

// curve colours, in drawing order
const curveSeries = [
  {pts: yellowPts, color: "#FFFF00"},
  {pts: redPts, color: "#FF0000"},
  {pts: greenPts, color: "#00FF00"},
  {pts: bluePts, color: "#0000FF"},
  {pts: purplePts, color: "#A020F0"}
];

// ---- layout ----
const COL_LEFT = [71, 341, 612, 883];
const ROW_TOP = [9, 187, 364, 542, 719, 897];
const STRIP_H = 24;
const PANEL_W = 221;
const PANEL_H = 148;
const ML = 60;
const MB = 30;
const FONT = 12.2;
const bottomOfColumn = new Set([19, 20, 21, 22]); // panels carrying the x axis

const chart = document.getElementById("chart");
const px = d => d[0];
const py = d => d[1];

panelIds.forEach((id, i) => {
  const col = i % 4, row = Math.floor(i / 4);
  const left = COL_LEFT[col], top = ROW_TOP[row];

  // strip label
  const strip = document.createElement("div");
  strip.className = "strip";
  strip.style.left = left + "px";
  strip.style.top = top + "px";
  strip.style.width = PANEL_W + "px";
  strip.style.height = STRIP_H + "px";
  strip.style.lineHeight = STRIP_H + "px";
  strip.textContent = `${id}  -  ${panelNames[i]}`;
  chart.appendChild(strip);

  // free y scale with 5% expansion on each side
  const all = [histPts[i], ...curveSeries.map(s => s.pts[i])].flat();
  const maxY = d3.max(all, py);
  const yDomain = [-0.05 * maxY, 1.05 * maxY];
  const ticks = yTicks[i];
  const step = ticks[1] - ticks[0];
  const yMinor = [ticks[0] - step / 2, ...ticks.map(t => t + step / 2)]
    .filter(v => v > yDomain[0] && v < yDomain[1]);
  const tickFmt = id === 10 ? (d => sciTickLabels[ticks.indexOf(d)]) : (d => String(d));
  const hasX = bottomOfColumn.has(i);

  const marks = [
    Plot.frame({fill: "#EBEBEB", stroke: "none"}),
    Plot.gridX(xMinor, {stroke: "#ffffff", strokeOpacity: 1, strokeWidth: 0.55}),
    Plot.gridY(yMinor, {stroke: "#ffffff", strokeOpacity: 1, strokeWidth: 0.55}),
    Plot.gridX(xTicks, {stroke: "#ffffff", strokeOpacity: 1, strokeWidth: 1.1}),
    Plot.gridY(ticks, {stroke: "#ffffff", strokeOpacity: 1, strokeWidth: 1.1}),
    Plot.areaY(histPts[i], {x: px, y: py, fill: "#000000"}),
    ...curveSeries.map(s => Plot.line(s.pts[i], {x: px, y: py, stroke: s.color, strokeWidth: 2.1, curve: "monotone-x"})),
    Plot.axisY(ticks, {tickSize: 3.5, tickPadding: 2.5, tickFormat: tickFmt, fontSize: FONT, fill: "#4D4D4D", stroke: "#333333"})
  ];
  if (hasX) {
    marks.push(Plot.axisX(xTicks, {tickSize: 3.5, tickPadding: 2.5, fontSize: FONT, fill: "#4D4D4D", stroke: "#333333"}));
  }

  const svg = Plot.plot({
    width: ML + PANEL_W,
    height: PANEL_H + (hasX ? MB : 0),
    marginLeft: ML,
    marginRight: 0,
    marginTop: 0,
    marginBottom: hasX ? MB : 0,
    x: {domain: [-10, 210], axis: null},
    y: {domain: yDomain, axis: null},
    style: {background: "transparent", fontFamily: "Liberation Sans, Arial, sans-serif", fontSize: FONT + "px", overflow: "visible"},
    marks
  });

  const holder = document.createElement("div");
  holder.className = "panel";
  holder.style.left = (left - ML) + "px";
  holder.style.top = (top + STRIP_H) + "px";
  holder.appendChild(svg);
  chart.appendChild(holder);
});

// axis titles
const yTitle = document.createElement("div");
yTitle.className = "title";
yTitle.textContent = "Samples";
yTitle.style.left = "17px";
yTitle.style.top = "553px";
yTitle.style.transform = "translate(-50%, -50%) rotate(-90deg)";
chart.appendChild(yTitle);

const xTitle = document.createElement("div");
xTitle.className = "title";
xTitle.textContent = "10";
xTitle.style.left = "587px";
xTitle.style.top = "1096px";
xTitle.style.transform = "translate(-50%, -50%)";
chart.appendChild(xTitle);
</script>
</body>
</html>
